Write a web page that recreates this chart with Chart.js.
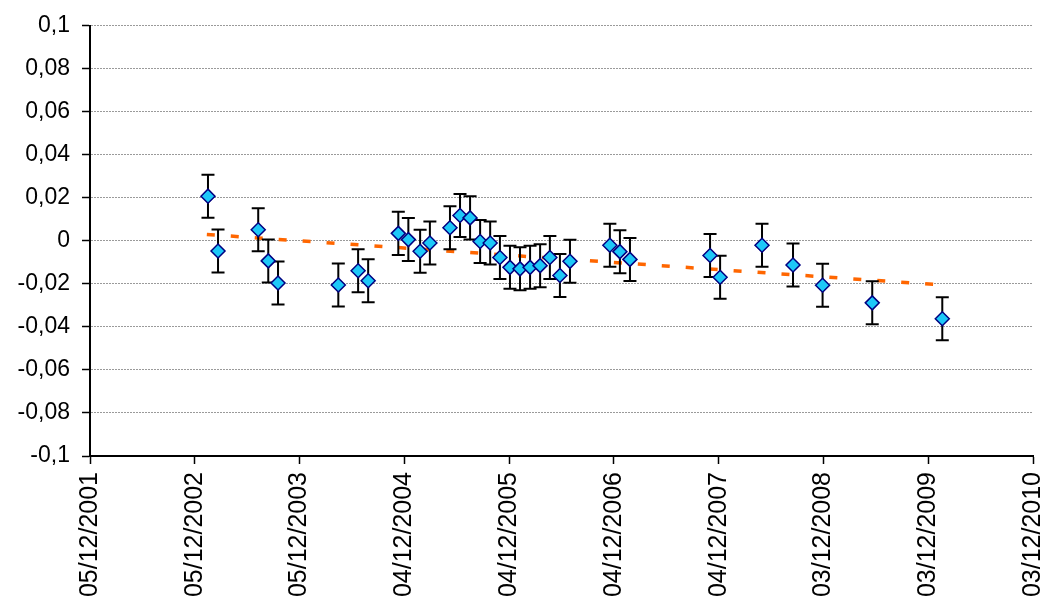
<!DOCTYPE html>
<html lang="fr">
  <head>
    <meta charset="UTF-8" />
    <title>Résidus</title>
    <script src="https://cdn.jsdelivr.net/npm/chart.js@4"></script>
    <style>
      html, body { margin: 0; padding: 0; background: #fff; }
      #wrap { width: 1046px; height: 606px; position: relative; }
    </style>
  </head>
  <body>
    <div id="wrap"><canvas id="myChart"></canvas></div>
    <script>
      const dates = [
        "2003-01-20", "2003-02-24", "2003-07-14", "2003-08-18", "2003-09-21",
        "2004-04-18", "2004-06-26", "2004-07-31", "2004-11-13", "2004-12-18",
        "2005-01-28", "2005-03-03", "2005-05-12", "2005-06-16", "2005-07-21",
        "2005-08-25", "2005-09-29", "2005-11-02", "2005-12-07", "2006-01-11",
        "2006-02-15", "2006-03-22", "2006-04-25", "2006-05-30", "2006-07-04",
        "2006-11-20", "2006-12-25", "2007-01-29", "2007-11-04", "2007-12-09",
        "2008-05-03", "2008-08-19", "2008-11-30", "2009-05-22", "2010-01-21"
      ];
      const values = [
        0.0208, -0.0047, 0.0052, -0.0093, -0.0196,
        -0.0205, -0.0139, -0.0185, 0.0035, 0.0006,
        -0.0048, -0.001, 0.0061, 0.0118, 0.0107,
        -0.0003, -0.001, -0.0077, -0.0123, -0.013,
        -0.0123, -0.0115, -0.0077, -0.0161, -0.0095,
        -0.002, -0.005, -0.0086, -0.0068, -0.0169,
        -0.002, -0.0112, -0.0206, -0.0288, -0.0362
      ];
      const errors = values.map(() => 0.01);

      // linear trend, from first to last measurement
      const trendDates = ["2003-01-16", "2010-01-21"];
      const trendValues = [0.003, -0.0205];

      // axis: Excel date axis, one tick every 365 days
      const axisStart = "2001-12-05";
      const axisDays = 3285;
      const tickDays = 365;
      const yMin = -0.1, yMax = 0.1, yStep = 0.02;

      const DAY = 86400000;
      function toUTC(s) {
        const p = s.split("-").map(Number);
        return Date.UTC(p[0], p[1] - 1, p[2]);
      }
      const base = toUTC(axisStart);
      function dayOf(s) { return Math.round((toUTC(s) - base) / DAY); }
      function pad(n) { return (n < 10 ? "0" : "") + n; }
      function fmtDate(days) {
        const d = new Date(base + days * DAY);
        return pad(d.getUTCDate()) + "/" + pad(d.getUTCMonth() + 1) + "/" + d.getUTCFullYear();
      }
      function fmtNum(v) {
        const r = Math.round(v * 1000) / 1000;
        return String(r).replace(".", ",");
      }

      const points = dates.map((d, i) => ({ x: dayOf(d), y: values[i] }));
      const trend = trendDates.map((d, i) => ({ x: dayOf(d), y: trendValues[i] }));

      // error bars drawn right after the trend line, below the diamonds
      const errorBars = {
        id: "errorBars",
        afterDatasetDraw(chart, args) {
          if (args.index !== 1) return;
          const xs = chart.scales.x, ys = chart.scales.y;
          const ctx = chart.ctx;
          ctx.save();
          ctx.strokeStyle = "#000";
          ctx.lineWidth = 2;
          points.forEach((p, i) => {
            const x = xs.getPixelForValue(p.x);
            const top = ys.getPixelForValue(p.y + errors[i]);
            const bot = ys.getPixelForValue(p.y - errors[i]);
            ctx.beginPath();
            ctx.moveTo(x, top); ctx.lineTo(x, bot);
            ctx.moveTo(x - 6.5, top); ctx.lineTo(x + 6.5, top);
            ctx.moveTo(x - 6.5, bot); ctx.lineTo(x + 6.5, bot);
            ctx.stroke();
          });
          ctx.restore();
        }
      };

      const family = "'Liberation Sans', Arial, sans-serif";

      new Chart(document.getElementById("myChart"), {
        type: "scatter",
        data: {
          datasets: [
            {
              data: points,
              pointStyle: "rectRot",
              pointRadius: 7,
              pointBackgroundColor: "#1ec8f8",
              pointBorderColor: "#000080",
              pointBorderWidth: 1.5,
              showLine: false,
              order: 1
            },
            {
              data: trend,
              showLine: true,
              borderColor: "#ff6600",
              borderWidth: 3.5,
              borderDash: [8, 16],
              pointRadius: 0,
              order: 2
            }
          ]
        },
        options: {
          responsive: true,
          maintainAspectRatio: false,
          animation: false,
          layout: { padding: { left: 0, right: 13, top: 21, bottom: 0 } },
          plugins: { legend: { display: false }, tooltip: { enabled: false } },
          scales: {
            x: {
              type: "linear",
              min: 0,
              max: axisDays,
              afterFit(scale) {
                scale.height = 150;
                scale.paddingLeft = 0;
                scale.paddingRight = 0;
              },
              grid: {
                drawOnChartArea: false,
                tickColor: "#000",
                tickLength: 8,
                tickWidth: 1.5
              },
              border: { color: "#000", width: 2 },
              ticks: {
                stepSize: tickDays,
                autoSkip: false,
                minRotation: 90,
                maxRotation: 90,
                padding: 8,
                color: "#000",
                font: { family: family, size: 25 },
                callback: (v) => fmtDate(v)
              }
            },
            y: {
              min: yMin,
              max: yMax,
              afterFit(scale) { scale.width = 90; },
              grid: {
                color: "#9a9a9a",
                lineWidth: 1,
                tickColor: "#000",
                tickLength: 8,
                tickWidth: 1.5,
                tickBorderDash: []
              },
              border: { color: "#000", width: 2, dash: [2, 1] },
              ticks: {
                stepSize: yStep,
                padding: 12,
                color: "#000",
                font: { family: family, size: 23 },
                callback: (v) => fmtNum(v)
              }
            }
          }
        },
        plugins: [errorBars]
      });
    </script>
  </body>
</html>
